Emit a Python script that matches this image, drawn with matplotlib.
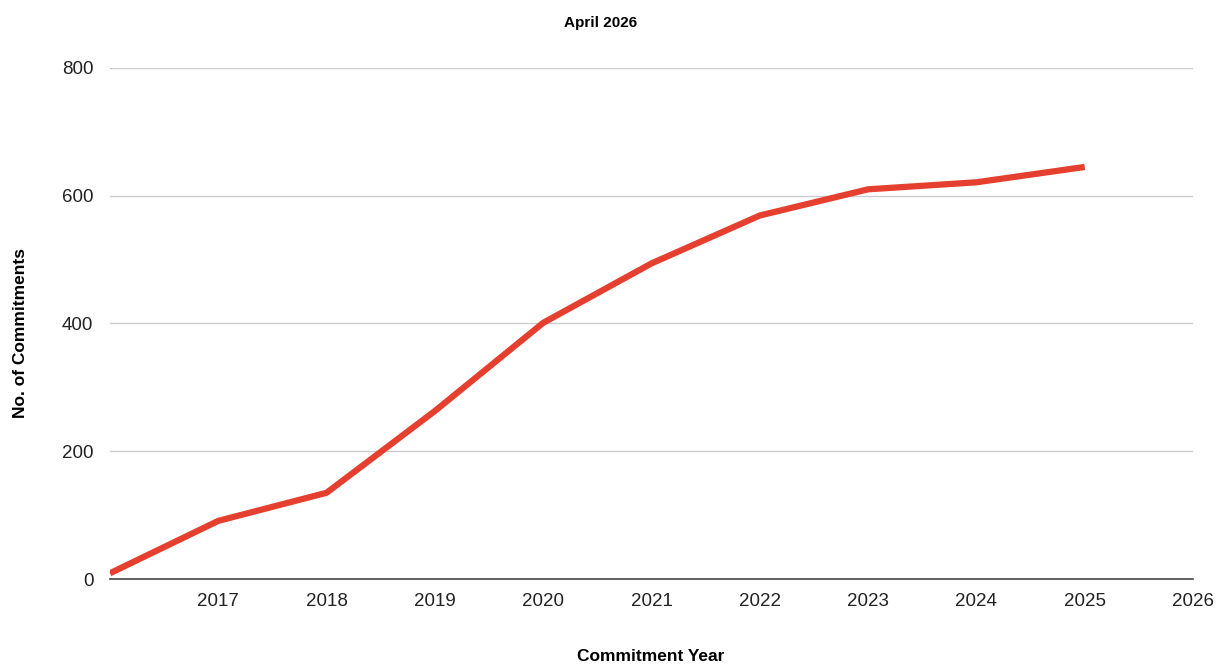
import matplotlib.pyplot as plt

plt.rcParams['font.family'] = ['Liberation Sans', 'DejaVu Sans']

# Data
years = [2016, 2017, 2018, 2019, 2020, 2021, 2022, 2023, 2024, 2025]
commitments = [9, 91, 135, 263, 401, 494, 569, 610, 621, 645]
xticks = [2017, 2018, 2019, 2020, 2021, 2022, 2023, 2024, 2025, 2026]
yticks = [0, 200, 400, 600, 800]

fig = plt.figure(figsize=(12.23, 6.66), dpi=100)
ax = fig.add_axes([0.0899, 0.1306, 0.8856, 0.7674])

ax.plot(years, commitments, color="#E5402F", linewidth=4.5, solid_capstyle="butt")

ax.set_xlim(2016, 2026)
ax.set_ylim(0, 800)
ax.set_xticks(xticks)
ax.set_yticks(yticks)
ax.grid(axis="y", color="#cccccc", linewidth=1)
ax.set_axisbelow(True)

for s in ["top", "right", "left"]:
    ax.spines[s].set_visible(False)
ax.spines["bottom"].set_color("#444444")
ax.spines["bottom"].set_linewidth(1.2)
ax.spines["bottom"].set_zorder(5)

ax.tick_params(axis="both", length=0, labelsize=13.5, colors="#222222")
ax.tick_params(axis="x", pad=10)
ax.tick_params(axis="y", pad=12)

# axis titles placed by hand
fig.text(0.532, 0.015, "Commitment Year", ha="center", va="center", fontsize=12.5, fontweight="bold")
fig.text(0.017, 0.5, "No. of Commitments", ha="center", va="center", rotation=90,
         fontsize=12.5, fontweight="bold")
fig.text(0.491, 0.966, "April 2026", ha="center", va="center", fontsize=11, fontweight="bold")

plt.savefig("out.png", dpi=100)
